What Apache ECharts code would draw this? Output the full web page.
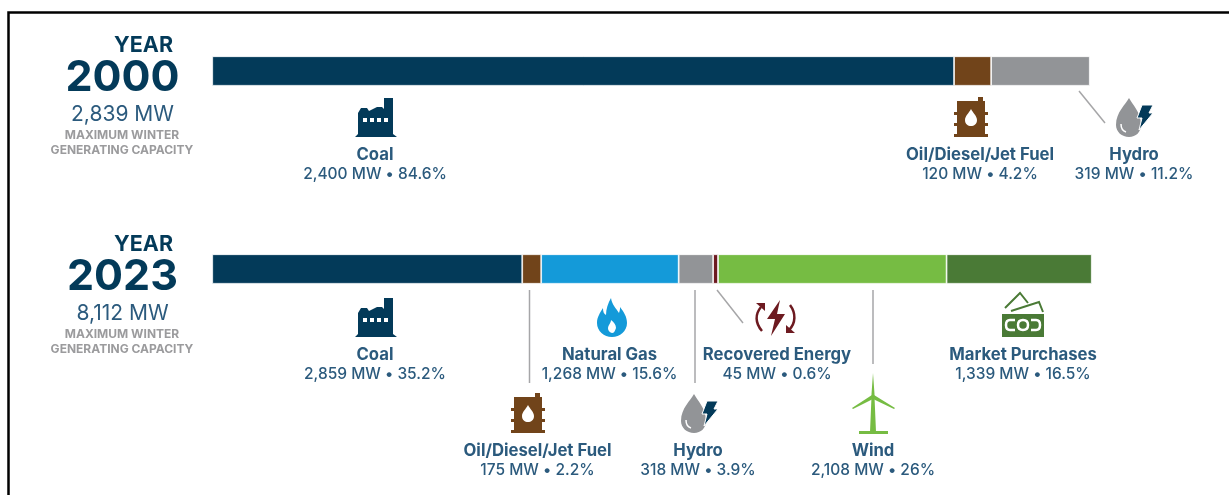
<!DOCTYPE html>
<html>
<head>
<meta charset="utf-8">
<title>Generating capacity</title>
<style>
  html, body { margin: 0; padding: 0; background: #fff; }
  #main { width: 1229px; height: 495px; }
</style>
<script src="https://cdn.jsdelivr.net/npm/echarts@6/dist/echarts.min.js"></script>
</head>
<body>
<div id="main"></div>
<script>
// data
var names2000 = ['Coal', 'Oil/Diesel/Jet Fuel', 'Hydro'];
var values2000 = [2400, 120, 319];
var shares2000 = ['84.6', '4.2', '11.2'];
var total2000 = 2839;

var names2023 = ['Coal', 'Oil/Diesel/Jet Fuel', 'Natural Gas', 'Hydro', 'Recovered Energy', 'Wind', 'Market Purchases'];
var values2023 = [2859, 175, 1268, 318, 45, 2108, 1339];
var shares2023 = ['35.2', '2.2', '15.6', '3.9', '0.6', '26', '16.5'];
var total2023 = 8112;

var colors = {
  'Coal': '#033a59',
  'Oil/Diesel/Jet Fuel': '#71441a',
  'Natural Gas': '#149ad9',
  'Hydro': '#929497',
  'Recovered Energy': '#6d1a20',
  'Wind': '#76bc43',
  'Market Purchases': '#4a7a36'
};

var FONT = 'Inter, "Liberation Sans", sans-serif';
var NAVY = '#033a59';
var TEXT = '#2b5a7d';
var GREY = '#9b9b9d';
var LINE = '#a6a6a8';

// icons, drawn in their own little coordinates
var icons = {
  factory: [
    { d: 'M0 40L3 37V16L6 11H12L14 14L22 10H27L29 12V1H38V37L42 40Z', fill: NAVY },
    { d: 'M8 21H12V25H8ZM15 21H19V25H15ZM22 21H26V25H22ZM29 21H33V25H29Z', fill: '#fff' }
  ],
  barrel: [
    { d: 'M24 0H29V4H24ZM3 4H31V15H34V18H31V26H34V29H31V37H34V40H0V37H3V29H0V26H3V18H0V15H3Z', fill: '#71441a' },
    { d: 'M17 12C19 16 23 19 23 23C23 27 20 29 17 29C14 29 11 27 11 23C11 19 15 16 17 12Z', fill: '#fff' }
  ],
  hydro: [
    { d: 'M13 0C16 6 25 14 25 27C25 34 20 39 13 39C6 39 0 34 0 27C0 14 10 6 13 0Z', fill: '#929497' },
    { d: 'M5 26C5 31 7 33 10 34', stroke: '#fff', width: 1.5 },
    { d: 'M26 7H37L33 15H37L23 32L26 20H21Z', fill: NAVY, stroke: '#fff', width: 1 }
  ],
  flame: [
    { d: 'M14 0C15 7 19 10 22 15C23 12 23 11 23 9C27 14 30 19 30 25C30 33 23 39 15 39C7 39 0 33 0 25C0 19 3 15 6 10C6 14 7 16 9 17C9 11 11 5 14 0Z', fill: '#149ad9' },
    { d: 'M15 35C11 34 10 30 12 27C13 25 14 24 14 22C17 24 19 27 19 30C18 33 17 35 15 35Z', fill: '#fff' }
  ],
  recovered: [
    { d: 'M26 0L13 19H21L17 36L31 14H23Z', fill: '#6d1a20' },
    { d: 'M7 7C1 14 1 23 8 31', stroke: '#6d1a20', width: 2.5 },
    { d: 'M36 5C42 13 42 23 35 30', stroke: '#6d1a20', width: 2.5 },
    { d: 'M2 3H11V11Z', fill: '#6d1a20' },
    { d: 'M41 33H32V25Z', fill: '#6d1a20' }
  ],
  cash: [
    { d: 'M4 17L19 2L27 12', stroke: '#4a7a36', width: 2 },
    { d: 'M10 20L38 11L42 21', stroke: '#4a7a36', width: 2 },
    { d: 'M1 23H43V46H1Z', fill: '#4a7a36' },
    { d: 'M14 29H9C6 29 5 31 5 34C5 37 6 39 9 39H14', stroke: '#fff', width: 2.5 },
    { d: 'M22 29C26 29 27 31 27 34C27 37 26 39 22 39C18 39 17 37 17 34C17 31 18 29 22 29Z', stroke: '#fff', width: 2.5 },
    { d: 'M30 29H35C38 29 39 31 39 34C39 37 38 39 35 39H30', stroke: '#fff', width: 2.5 }
  ],
  turbine: [
    { d: 'M21 0L22.5 21L22.5 24L24 59H18L19.5 24L19.5 21Z', fill: '#76bc43' },
    { d: 'M20 22L0 35L1 36L21 26Z', fill: '#76bc43' },
    { d: 'M22 22L43 35L42 36L21 26Z', fill: '#76bc43' },
    { d: 'M7 58H36V61H7Z', fill: '#76bc43' }
  ]
};

// the graphic component only knows registered shapes, so each icon part gets one
Object.keys(icons).forEach(function (name) {
  icons[name].forEach(function (part, i) {
    part.type = 'icon_' + name + '_' + i;
    echarts.graphic.registerShape(part.type, echarts.graphic.extendPath(part.d));
  });
});

var graphics = [];

function addText(str, x, y, size, weight, color, align) {
  graphics.push({
    type: 'text', x: x, y: y, silent: true,
    style: { text: str, fontFamily: FONT, fontSize: size, fontWeight: weight, fill: color, align: align || 'center', verticalAlign: 'middle' }
  });
}

function addLine(x1, y1, x2, y2) {
  graphics.push({
    type: 'line', silent: true,
    shape: { x1: x1, y1: y1, x2: x2, y2: y2 },
    style: { stroke: LINE, lineWidth: 1.5 }
  });
}

function addIcon(name, x, y) {
  icons[name].forEach(function (part) {
    graphics.push({
      type: part.type, x: x, y: y, silent: true,
      style: { fill: part.fill || 'none', stroke: part.stroke || 'none', lineWidth: part.width || 0 }
    });
  });
}

function addLabel(name, value, share, x, y) {
  addText(name, x, y + 1, 16.7, 700, TEXT);
  addText(value.toLocaleString('en-US') + ' MW \u2022 ' + share + '%', x, y + 20, 15.5, 500, TEXT);
}

function addHeader(year, total, y) {
  addText('YEAR', 173, y + 1, 21.5, 700, NAVY, 'right');
  addText(year, 122.5, y + 33, 43, 700, NAVY);
  addText(total.toLocaleString('en-US') + ' MW', 122.5, y + 70, 21, 400, TEXT);
  addText('MAXIMUM WINTER', 122, y + 90, 12, 700, GREY);
  addText('GENERATING CAPACITY', 122, y + 105, 12, 700, GREY);
}

// frame round the picture
graphics.push({
  type: 'polyline', silent: true,
  shape: { points: [[8.5, 495], [8.5, 12.5], [1229, 12.5]] },
  style: { fill: 'none', stroke: '#000', lineWidth: 2.5 }
});

addHeader('2000', total2000, 45);
addHeader('2023', total2023, 244);

addIcon('factory', 355, 97);
addLabel(names2000[0], values2000[0], shares2000[0], 375, 154);
addIcon('barrel', 954, 97);
addLabel(names2000[1], values2000[1], shares2000[1], 980, 154);
addIcon('hydro', 1116, 98);
addLabel(names2000[2], values2000[2], shares2000[2], 1134, 154);
addLine(1079, 91, 1105, 123);

addIcon('factory', 355, 297);
addLabel(names2023[0], values2023[0], shares2023[0], 375, 354);
addIcon('barrel', 511, 393);
addLabel(names2023[1], values2023[1], shares2023[1], 537.5, 450);
addIcon('flame', 597, 298);
addLabel(names2023[2], values2023[2], shares2023[2], 609.5, 354);
addIcon('hydro', 681, 394);
addLabel(names2023[3], values2023[3], shares2023[3], 698, 450);
addIcon('recovered', 754, 300);
addLabel(names2023[4], values2023[4], shares2023[4], 777, 354);
addIcon('turbine', 852, 373);
addLabel(names2023[5], values2023[5], shares2023[5], 873, 450);
addIcon('cash', 1001, 291);
addLabel(names2023[6], values2023[6], shares2023[6], 1023, 354);

addLine(529.5, 290, 529.5, 383);
addLine(695, 290, 695, 383);
addLine(717, 290, 743, 323);
addLine(873, 290, 873, 364);

function barSeries(names, values, index, year) {
  return names.map(function (name, i) {
    return {
      type: 'bar',
      name: year + ' ' + name,
      stack: year,
      xAxisIndex: index,
      yAxisIndex: index,
      barWidth: '100%',
      silent: true,
      itemStyle: { color: colors[name], borderColor: '#fff', borderWidth: 0.75 },
      data: [values[i]]
    };
  });
}

var dom = document.getElementById('main');
var myChart = echarts.init(dom, null, { renderer: 'canvas' });

var option = {
  backgroundColor: '#fff',
  animation: false,
  grid: [
    { left: 212.25, top: 56.25, width: 877.5, height: 29.5 },
    { left: 212.25, top: 254.25, width: 879.5, height: 29.5 }
  ],
  xAxis: [
    { type: 'value', gridIndex: 0, min: 0, max: total2000, show: false },
    { type: 'value', gridIndex: 1, min: 0, max: total2023, show: false }
  ],
  yAxis: [
    { type: 'category', gridIndex: 0, data: ['2000'], show: false },
    { type: 'category', gridIndex: 1, data: ['2023'], show: false }
  ],
  series: barSeries(names2000, values2000, 0, '2000').concat(barSeries(names2023, values2023, 1, '2023')),
  graphic: { elements: graphics }
};

myChart.setOption(option);
window.addEventListener('resize', myChart.resize);
</script>
</body>
</html>
